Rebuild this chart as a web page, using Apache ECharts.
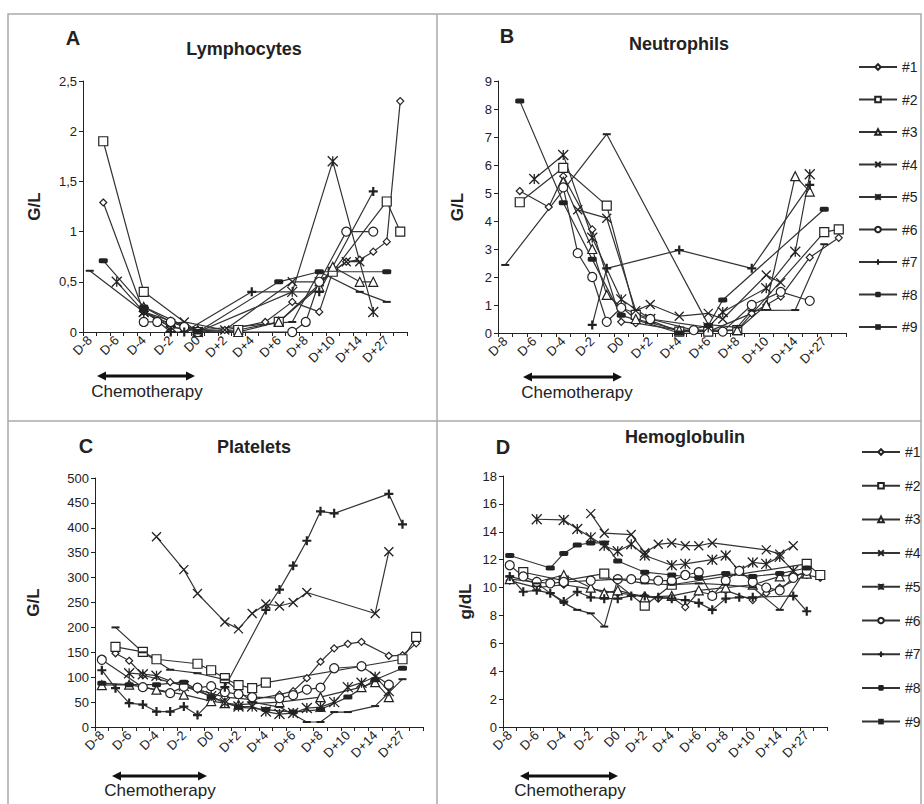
<!DOCTYPE html>
<html>
<head>
<meta charset="utf-8">
<script src="https://cdn.jsdelivr.net/npm/echarts@6/dist/echarts.min.js"></script>
<style>
  html, body { margin: 0; padding: 0; background: #fff; }
  #chart { width: 924px; height: 804px; }
</style>
</head>
<body>
<div id="chart"></div>
<script>
// days of follow-up (every second one is labelled)
const days = ['D-8', 'D-7', 'D-6', 'D-5', 'D-4', 'D-3', 'D-2', 'D-1', 'D0', 'D+1', 'D+2', 'D+3',
  'D+4', 'D+5', 'D+6', 'D+7', 'D+8', 'D+9', 'D+10', 'D+12', 'D+14', 'D+21', 'D+27', 'D+30'];
const patients = ['#1', '#2', '#3', '#4', '#5', '#6', '#7', '#8', '#9'];

// A - Lymphocytes (G/L)
const lymph1 = [null, 1.29, null, null, 0.2, null, 0.05, null, 0.02, null, 0.02, null, null, 0.1, null, 0.3, null, 0.2, 0.6, 0.7, 0.72, 0.8, 0.9, 2.3];
const lymph2 = [null, 1.9, null, null, 0.4, null, null, null, 0.0, null, null, 0.02, null, null, 0.1, null, null, null, 0.6, null, null, null, 1.3, 1.0];
const lymph3 = [null, null, null, null, 0.25, null, 0.1, null, 0.02, null, null, 0.0, null, null, 0.1, null, null, 0.45, 0.65, null, 0.5, 0.5, null, null];
const lymph4 = [null, null, null, null, 0.2, null, 0.08, 0.1, null, null, 0.02, null, null, null, null, 0.5, null, 0.5, null, 0.7, 0.7, null, null, null];
const lymph5 = [null, null, 0.5, null, 0.2, null, 0.05, null, 0.0, null, null, null, null, null, null, 0.4, null, null, 1.7, null, null, 0.2, null, null];
const lymph6 = [null, null, null, null, 0.1, 0.1, 0.1, 0.05, 0.0, null, null, null, null, null, null, 0.0, 0.1, 0.5, null, 1.0, null, 1.0, null, null];
const lymph7 = [null, null, null, null, 0.22, null, 0.0, 0.0, null, null, null, null, 0.4, null, null, null, null, 0.4, null, null, null, 1.4, null, null];
const lymph8 = [null, 0.71, null, null, 0.25, null, null, null, 0.0, null, null, null, null, null, 0.5, null, null, 0.6, null, null, null, null, 0.6, null];
const lymph9 = [0.61, null, null, null, 0.2, null, null, null, 0.02, null, null, null, null, null, null, 0.1, null, 0.6, null, null, 0.4, null, 0.3, null];

// B - Neutrophils (G/L)
const neut1 = [null, 5.07, null, 4.5, 5.6, null, 3.7, null, 0.4, 0.35, null, null, 0.1, null, 0.05, null, null, 0.7, 1.0, 1.3, null, 2.7, null, 3.4];
const neut2 = [null, 4.67, null, null, 5.9, null, null, 4.55, null, 0.65, null, null, 0.05, null, 0.05, null, 0.1, null, null, null, null, null, 3.6, 3.7];
const neut3 = [null, null, null, null, 5.4, null, 3.0, 1.36, null, 0.5, null, null, 0.1, null, null, null, 0.1, null, 1.0, null, 5.6, 5.05, null, null];
const neut4 = [null, null, null, null, null, 4.4, null, 4.1, null, 0.8, 1.02, null, 0.6, null, 0.7, 0.5, null, null, 2.07, 1.8, null, null, null, null];
const neut5 = [null, null, 5.5, null, 6.36, null, 3.4, null, 1.2, null, 0.5, null, null, null, 0.2, 0.75, null, null, 1.6, null, 2.9, 5.67, null, null];
const neut6 = [null, null, null, null, 5.2, 2.85, 2.0, 0.4, 0.9, null, 0.5, null, null, 0.1, null, 0.05, null, 1.0, null, 1.47, null, 1.15, null, null];
const neut7 = [null, null, null, null, null, null, 0.29, 2.31, null, null, null, null, 2.96, null, null, null, null, 2.31, null, null, null, 5.29, null, null];
const neut8 = [null, 8.29, null, null, 4.65, null, 2.63, null, 0.63, null, null, null, 0.0, null, 0.27, 1.18, null, null, null, null, null, null, 4.42, null];
const neut9 = [2.43, null, null, null, null, null, null, 7.1, null, null, null, null, null, null, 0.3, null, 0.2, 0.8, null, null, 0.82, null, 3.17, null];

// C - Platelets (G/L)
const plat1 = [null, 148, 133, 104, null, 90, null, 75, null, 60, null, 55, null, 65, 72, 98, 131, 158, 167, 171, null, 143, 144, 168];
const plat2 = [null, 161, null, 151, 136, null, null, 127, 114, 98, 84, 78, 89, null, null, null, null, null, null, null, null, null, 136, 181];
const plat3 = [84, null, 85, null, 75, null, 65, null, 52, 48, 45, null, null, 50, null, null, 60, null, null, 80, 90, 60, null, null];
const plat4 = [null, null, null, null, 382, null, 316, 268, null, 211, 197, 228, 247, 243, 250, 270, null, null, null, null, 228, 352, null, null];
const plat5 = [null, null, 108, 106, 103, null, 82, null, 62, 48, 41, 41, 31, 26, 28, 38, 40, 50, 80, 89, 101, 72, null, null];
const plat6 = [135, null, null, 80, null, 68, 81, 79, 82, 70, 66, 60, null, 58, 64, 75, 79, 118, null, 122, null, 85, null, null];
const plat7 = [114, 78, 48, 45, 31, 31, 41, 24, null, 80, null, null, 235, 276, 324, 374, 433, 429, null, null, null, 468, 407, null];
const plat8 = [88, null, 85, null, 85, null, 90, null, 60, null, 40, null, 35, null, 30, null, 35, null, 60, null, 95, null, 118, null];
const plat9 = [null, 200, null, 150, null, 115, null, 108, null, 95, null, 50, null, 40, null, 10, 10, 30, 30, null, 42, null, 96, null];

// D - Hemoglobulin (g/dL)
const hemo1 = [10.5, null, 10.0, null, 10.2, null, 9.9, null, 9.6, null, 9.4, 9.2, 9.3, 8.6, 9.7, 9.5, 9.8, null, 9.1, 9.6, 10.0, null, 10.9, 10.7];
const hemo2 = [null, 11.1, null, null, 10.5, null, null, 11.0, null, null, 8.7, null, 10.2, null, null, null, null, null, null, null, null, null, 11.7, 10.9];
const hemo3 = [10.6, null, 10.4, null, 10.9, null, 10.0, 9.6, 9.8, null, 9.3, null, 9.4, null, 9.8, null, 10.0, null, 10.2, null, 10.8, null, 11.0, null];
const hemo4 = [null, null, null, null, null, null, 15.3, 13.9, null, 13.8, 12.5, 13.1, 13.2, 13.0, 13.0, 13.2, null, null, null, 12.7, 12.4, 13.0, null, null];
const hemo5 = [null, null, 14.9, null, 14.85, 14.2, 13.6, 13.0, 12.6, 13.1, 12.3, null, 11.6, 11.7, null, 12.0, 12.3, 11.2, 11.8, 11.7, 12.2, 11.2, null, null];
const hemo6 = [11.6, 10.8, 10.4, 10.3, 10.4, null, 10.5, null, 10.6, 10.6, 10.6, 10.5, 10.5, 10.9, 11.1, 9.4, 10.5, 11.2, 10.4, 10.0, 9.8, 10.7, 11.2, null];
const hemo7 = [10.8, 9.7, 9.8, 9.6, 9.0, 9.7, 9.3, 9.2, 9.2, 9.4, 9.4, 9.3, 9.2, 9.1, 8.9, 8.4, 9.2, 9.3, 9.3, null, null, 9.4, 8.3, null];
const hemo8 = [12.3, null, null, 11.4, 12.45, 13.05, 13.2, 13.2, 11.9, null, 11.1, null, 10.9, null, 10.7, null, 11.0, null, 10.8, null, 11.0, null, 11.4, null];
const hemo9 = [10.8, null, 10.3, 9.6, 8.9, 8.4, 8.15, 7.2, 10.6, null, 10.3, null, 10.2, null, 10.3, null, 10.2, null, 10.0, null, 8.4, null, 11.4, null];

const FONT = '"Liberation Sans", Arial, sans-serif';
const INK = '#222';

// one marker per patient
const open = { color: '#fff', borderColor: INK, borderWidth: 1.2 };
const stroke = { color: INK, borderColor: INK, borderWidth: 1.3 };
const filled = { color: INK, borderColor: INK, borderWidth: 0 };
const markers = [
  { symbol: 'diamond', size: 7, style: open },
  { symbol: 'rect', size: 9, style: open },
  { symbol: 'triangle', size: 9, style: open },
  { symbol: 'path://M0,0L10,10M10,0L0,10', size: 9, style: stroke },
  { symbol: 'path://M0,0L10,10M10,0L0,10M5,0L5,10', size: 10, style: stroke },
  { symbol: 'circle', size: 9, style: open },
  { symbol: 'path://M5,0L5,10M0,5L10,5', size: 9, style: { color: INK, borderColor: INK, borderWidth: 2.2 } },
  { symbol: 'roundRect', size: [9, 5], style: filled },
  { symbol: 'rect', size: [8, 2], style: filled }
];

const panels = [
  { data: [lymph1, lymph2, lymph3, lymph4, lymph5, lymph6, lymph7, lymph8, lymph9],
    grid: { left: 83, top: 81, width: 324, height: 251 }, max: 2.5, step: 0.5, unit: 'G/L', gap: 40 },
  { data: [neut1, neut2, neut3, neut4, neut5, neut6, neut7, neut8, neut9],
    grid: { left: 498, top: 81, width: 348, height: 252 }, max: 9, step: 1, unit: 'G/L', gap: 32 },
  { data: [plat1, plat2, plat3, plat4, plat5, plat6, plat7, plat8, plat9],
    grid: { left: 95, top: 478, width: 328, height: 249 }, max: 500, step: 50, unit: 'G/L', gap: 53 },
  { data: [hemo1, hemo2, hemo3, hemo4, hemo5, hemo6, hemo7, hemo8, hemo9],
    grid: { left: 503, top: 476, width: 324, height: 251 }, max: 18, step: 2, unit: 'g/dL', gap: 29 }
];

const axisLine = { show: true, lineStyle: { color: INK, width: 1 } };

const grids = panels.map(p => p.grid);
const xAxes = panels.map((p, i) => ({
  type: 'category', gridIndex: i, data: days, boundaryGap: true,
  axisLine: axisLine,
  axisTick: { show: true, interval: 0, length: 4, inside: false, lineStyle: { color: INK } },
  axisLabel: { interval: 1, rotate: 45, margin: 6, fontSize: 13, color: INK, fontFamily: FONT, hideOverlap: false },
  splitLine: { show: false }
}));
const yAxes = panels.map((p, i) => ({
  type: 'value', gridIndex: i, min: 0, max: p.max, interval: p.step,
  name: p.unit, nameLocation: 'middle', nameGap: p.gap,
  nameTextStyle: { fontSize: 17, fontWeight: 'bold', color: INK, fontFamily: FONT },
  axisLine: axisLine,
  axisTick: { show: true, length: 4, lineStyle: { color: INK } },
  axisLabel: { fontSize: 13, color: INK, fontFamily: FONT, margin: 6,
    formatter: v => String(v).replace('.', ',') },
  splitLine: { show: false }
}));

const series = [];
panels.forEach((p, g) => {
  p.data.forEach((vals, k) => {
    series.push({
      name: patients[k], type: 'line', xAxisIndex: g, yAxisIndex: g,
      data: vals, connectNulls: true,
      symbol: markers[k].symbol, symbolSize: markers[k].size, showAllSymbol: true,
      itemStyle: markers[k].style,
      lineStyle: { color: '#333', width: 1.2 },
      emphasis: { disabled: true },
      animation: false
    });
  });
});

const legendBase = {
  data: patients, orient: 'vertical', itemWidth: 38, itemHeight: 7,
  textStyle: { fontSize: 14, color: INK, fontFamily: FONT }, selectedMode: false
};

// panel decorations: letters, titles, chemotherapy arrows, frame
function txt(str, x, y, size, bold) {
  return { type: 'text', x: x, y: y, silent: true,
    style: { text: str, fill: INK, font: (bold ? 'bold ' : '') + size + 'px ' + FONT, textAlign: 'center', textVerticalAlign: 'middle' } };
}
function arrow(x1, x2, y) {
  return { type: 'group', silent: true, children: [
    { type: 'line', shape: { x1: x1 + 6, y1: y, x2: x2 - 6, y2: y }, style: { stroke: '#111', lineWidth: 3 } },
    { type: 'polygon', shape: { points: [[x1, y], [x1 + 9, y - 4.5], [x1 + 9, y + 4.5]] }, style: { fill: '#111' } },
    { type: 'polygon', shape: { points: [[x2, y], [x2 - 9, y - 4.5], [x2 - 9, y + 4.5]] }, style: { fill: '#111' } }
  ] };
}
const frame = { stroke: '#aaa', lineWidth: 1.5, fill: null };
const graphic = [
  { type: 'rect', shape: { x: 8, y: 14, width: 913, height: 792 }, style: frame, silent: true },
  { type: 'line', shape: { x1: 437, y1: 14, x2: 437, y2: 804 }, style: frame, silent: true },
  { type: 'line', shape: { x1: 8, y1: 421, x2: 921, y2: 421 }, style: frame, silent: true },
  txt('A', 73, 38, 20, true), txt('Lymphocytes', 244, 49, 18, true),
  txt('B', 507, 36, 20, true), txt('Neutrophils', 679, 44, 18, true),
  txt('C', 86, 446, 20, true), txt('Platelets', 254, 447, 18, true),
  txt('D', 503, 447, 20, true), txt('Hemoglobulin', 685, 437, 18, true),
  arrow(97, 195, 376), txt('Chemotherapy', 147, 391, 17, false),
  arrow(523, 622, 377), txt('Chemotherapy', 577, 392, 17, false),
  arrow(112, 207, 776), txt('Chemotherapy', 160, 790, 17, false),
  arrow(520, 618, 776), txt('Chemotherapy', 570, 790, 17, false)
];

const chart = echarts.init(document.getElementById('chart'), null, { renderer: 'svg' });
chart.setOption({
  backgroundColor: '#fff',
  animation: false,
  textStyle: { fontFamily: FONT },
  grid: grids,
  xAxis: xAxes,
  yAxis: yAxes,
  legend: [
    Object.assign({ left: 853, top: 55, itemGap: 18.5 }, legendBase),
    Object.assign({ left: 856, top: 440, itemGap: 19.7 }, legendBase)
  ],
  graphic: graphic,
  series: series
});
</script>
</body>
</html>
